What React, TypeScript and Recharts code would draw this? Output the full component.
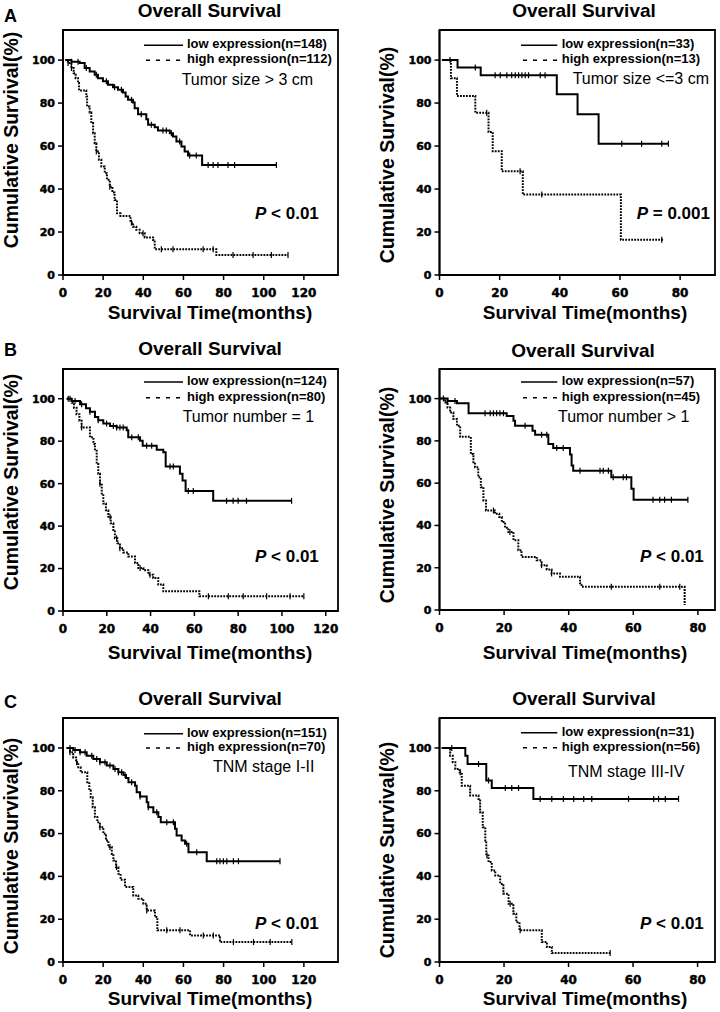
import React from 'react';
import { ComposedChart, Line, Scatter, XAxis, YAxis, ReferenceArea } from 'recharts';

const FONT = '"Liberation Sans", Arial, sans-serif';
const TICK_FONT = '"DejaVu Sans", sans-serif';

const yTicks = [0, 20, 40, 60, 80, 100];
const xTicksLong = [0, 20, 40, 60, 80, 100, 120];
const xTicksShort = [0, 20, 40, 60, 80];

// A left - tumor size > 3 cm
const aLeftLowTime = [1.2, 4.2, 8.3, 10.8, 13.3, 15.8, 17.4, 19.9, 22.4, 24.9, 27.4, 29.9, 31.2, 32.4, 34.9, 35.7, 37.4, 41.5, 42.4, 45.7, 47.3, 53.2, 54.8, 56.5, 59.0, 60.6, 62.3, 69.3, 106.3];
const aLeftLowSurv = [100, 99.2, 98.6, 96.3, 94.7, 93.2, 91.6, 90.1, 88.5, 87.4, 86.2, 84.9, 83.1, 81.5, 80.3, 77.6, 74.8, 72.5, 69.9, 68.8, 67.2, 66.0, 64.4, 62.1, 59.8, 57.5, 55.6, 51.2, 51.2];
const aLeftLowCens = [4.2, 7.5, 11.6, 16.6, 21.6, 25.7, 29.1, 34.1, 39.0, 44.0, 49.8, 51.5, 54.0, 58.1, 63.1, 66.4, 72.3, 74.8, 77.2, 82.2, 85.5, 106.3];
const aLeftHighTime = [1.2, 2.5, 4.2, 5.3, 6.3, 7.5, 8.0, 11.6, 12.0, 13.3, 14.1, 15.0, 15.8, 16.6, 17.9, 19.1, 20.8, 21.9, 23.3, 24.6, 25.7, 26.9, 28.6, 33.6, 34.9, 36.5, 38.2, 40.7, 44.9, 45.7, 76.4, 112.1];
const aLeftHighSurv = [100, 98.6, 96.3, 93.9, 91.6, 89.3, 85.9, 83.1, 78.4, 75.6, 70.7, 66.0, 61.3, 57.5, 53.6, 50.5, 47.4, 44.3, 41.1, 38.4, 34.9, 28.7, 27.5, 24.4, 22.5, 21.0, 19.4, 17.5, 16.3, 12.0, 9.3, 9.3];
const aLeftHighCens = [2.5, 4.2, 16.6, 23.3, 34.1, 39.9, 49.0, 54.8, 69.8, 74.8, 84.7, 94.7, 103.8, 112.1];

// A right - tumor size <= 3 cm
const aRightLowTime = [0.8, 6.0, 13.7, 39.0, 45.9, 52.9, 76.1];
const aRightLowSurv = [100, 96.6, 93.0, 84.1, 74.8, 61.1, 61.1];
const aRightLowCens = [3.5, 11.9, 18.5, 20.2, 22.4, 24.0, 25.2, 26.3, 27.4, 28.5, 29.6, 33.5, 35.1, 60.6, 67.2, 73.9, 76.1];
const aRightHighTime = [0.8, 3.8, 5.8, 11.9, 16.3, 17.7, 20.7, 27.7, 60.3, 74.5];
const aRightHighSurv = [100, 91.6, 83.3, 75.5, 66.5, 57.6, 48.3, 37.4, 16.4, 16.4];
const aRightHighCens = [15.7, 26.8, 34.0, 73.9];

// B left - tumor number = 1
const bLeftLowTime = [1.7, 4.0, 7.8, 10.5, 12.3, 14.6, 16.1, 18.4, 21.5, 24.5, 29.1, 29.8, 35.2, 36.4, 42.8, 45.8, 46.9, 53.4, 54.6, 56.0, 68.6, 104.4];
const bLeftLowSurv = [100, 98.9, 97.4, 95.5, 93.9, 91.4, 89.9, 88.3, 87.2, 86.4, 85.2, 81.8, 80.2, 77.9, 76.0, 74.8, 68.1, 64.6, 61.5, 56.5, 51.9, 51.9];
const bLeftLowCens = [3.2, 5.5, 8.5, 12.3, 16.1, 19.9, 23.0, 24.5, 26.0, 27.5, 31.4, 34.4, 38.2, 40.5, 48.9, 50.4, 57.2, 59.5, 74.7, 77.7, 80.0, 83.8, 104.4];
const bLeftHighTime = [1.7, 4.0, 5.0, 6.2, 7.5, 8.5, 12.3, 13.9, 14.6, 15.4, 16.1, 16.9, 17.7, 18.4, 19.6, 20.7, 21.8, 23.0, 23.7, 24.8, 26.0, 27.5, 29.8, 32.9, 34.4, 36.7, 39.0, 41.2, 43.5, 45.8, 62.3, 110.0];
const bLeftHighSurv = [100, 98.1, 95.8, 92.7, 89.6, 86.4, 81.8, 78.7, 75.5, 69.3, 64.6, 60.0, 55.3, 50.6, 47.5, 44.4, 41.3, 38.2, 34.3, 31.9, 29.6, 27.6, 25.7, 22.6, 20.2, 19.2, 17.1, 15.6, 12.5, 9.3, 7.0, 7.0];
const bLeftHighCens = [2.4, 8.5, 16.9, 21.5, 24.5, 26.0, 35.2, 39.7, 66.4, 75.5, 82.3, 93.0, 103.7, 110.0];

// B right - tumor number > 1
const bRightLowTime = [0.2, 2.5, 5.4, 9.0, 20.8, 22.9, 23.4, 28.8, 29.6, 33.7, 35.2, 40.4, 40.9, 41.4, 53.2, 59.4, 60.1, 76.9];
const bRightLowSurv = [100, 98.9, 97.8, 93.1, 91.8, 89.5, 87.1, 84.8, 82.9, 78.5, 76.6, 73.5, 68.3, 65.9, 62.8, 57.3, 52.1, 52.1];
const bRightLowCens = [2.5, 4.8, 14.1, 15.7, 16.7, 17.7, 18.7, 19.8, 26.5, 31.6, 33.2, 36.3, 38.3, 43.5, 49.7, 50.7, 52.3, 53.8, 56.9, 57.9, 66.1, 68.2, 69.7, 71.8, 76.9];
const bRightHighTime = [0.2, 1.75, 2.5, 3.3, 4.3, 5.4, 6.4, 9.7, 10.5, 11.0, 12.0, 12.8, 13.6, 14.4, 17.2, 18.5, 19.3, 20.3, 21.3, 22.9, 24.4, 25.4, 30.1, 31.6, 33.2, 34.7, 37.3, 43.5, 44.0, 75.9];
const bRightHighSurv = [100, 98.1, 95.8, 93.4, 90.3, 87.1, 81.9, 73.8, 69.9, 67.5, 62.8, 58.1, 51.8, 47.1, 45.5, 44.0, 41.6, 38.9, 36.9, 33.0, 28.3, 25.1, 23.5, 21.2, 19.2, 17.3, 15.7, 12.6, 11.0, 2.4];
const bRightHighCens = [1.2, 16.7, 21.8, 31.6, 34.7, 53.2, 68.2, 74.4];

// C left - TNM stage I-II
const cLeftLowTime = [1.8, 5.1, 8.5, 11.8, 15.1, 18.4, 21.8, 25.1, 27.6, 30.1, 31.4, 32.6, 35.9, 36.7, 38.4, 41.7, 42.5, 45.0, 47.5, 48.7, 55.8, 56.6, 59.1, 60.8, 62.5, 71.6, 108.1];
const cLeftLowSurv = [100, 99.1, 98.0, 96.4, 94.9, 93.3, 91.8, 90.2, 88.6, 87.4, 86.0, 84.0, 82.4, 79.3, 77.3, 74.6, 72.3, 70.0, 67.7, 65.3, 62.2, 59.1, 56.8, 55.2, 51.3, 47.1, 47.1];
const cLeftLowCens = [3.5, 6.0, 8.5, 11.0, 14.3, 16.8, 18.4, 20.9, 23.4, 25.9, 27.6, 29.2, 30.9, 34.2, 38.4, 42.5, 46.7, 51.7, 55.0, 61.6, 66.6, 76.6, 78.2, 79.9, 81.6, 84.9, 87.4, 108.1];
const cLeftHighTime = [1.8, 3.5, 5.1, 6.5, 7.6, 8.8, 12.1, 13.1, 13.8, 14.8, 15.9, 17.1, 18.4, 20.1, 21.4, 22.6, 24.3, 25.1, 26.4, 27.6, 28.7, 30.9, 35.0, 37.5, 40.0, 41.7, 45.8, 47.0, 63.3, 78.2, 114.0];
const cLeftHighSurv = [100, 98.0, 95.6, 93.3, 91.0, 88.6, 84.0, 80.1, 77.0, 72.3, 67.7, 65.3, 63.0, 59.9, 56.8, 53.7, 50.5, 47.4, 44.3, 41.2, 38.4, 35.0, 31.1, 29.5, 27.2, 24.1, 21.0, 14.8, 12.4, 9.3, 9.3];
const cLeftHighCens = [3.5, 6.8, 18.4, 23.4, 26.7, 41.7, 51.7, 58.3, 69.9, 74.9, 84.9, 94.9, 103.2, 114.0];

// C right - TNM stage III-IV
const cRightLowTime = [0.7, 8.0, 8.7, 14.5, 16.2, 29.1, 74.1];
const cRightLowSurv = [100, 96.4, 92.5, 84.8, 81.3, 76.2, 76.2];
const cRightLowCens = [3.8, 12.1, 15.2, 20.4, 22.4, 24.5, 31.2, 34.8, 38.4, 41.6, 44.7, 47.2, 58.6, 66.4, 67.9, 70.0, 74.1];
const cRightHighTime = [0.7, 3.3, 4.1, 4.9, 6.2, 6.9, 9.5, 12.1, 12.6, 13.4, 14.2, 14.5, 15.2, 16.2, 17.3, 18.8, 19.8, 21.4, 22.9, 23.8, 24.8, 31.7, 33.3, 34.8, 52.9];
const cRightHighSurv = [100, 96.4, 93.3, 90.2, 88.6, 82.4, 77.8, 76.2, 70.0, 63.0, 56.8, 49.8, 46.7, 42.8, 40.4, 36.5, 31.9, 27.2, 22.6, 18.6, 14.8, 9.3, 7.0, 4.2, 4.2];
const cRightHighCens = [6.4, 14.7, 21.9, 25.0, 52.9];

const toSteps = (time: number[], surv: number[]) => time.map((t, i) => ({ t, s: surv[i] }));

const toCensor = (time: number[], surv: number[], cens: number[]) =>
  cens.map((c) => {
    let s = surv[0];
    for (let i = 0; i < time.length; i++) if (time[i] <= c) s = surv[i];
    return { t: c, s };
  });

const CensorMark = (props: any) => {
  const { cx, cy } = props;
  if (cx == null || cy == null) return null;
  return <line x1={cx} x2={cx} y1={cy - 3} y2={cy + 3} stroke="#000" strokeWidth={1.2} />;
};

// heavy tick labels, like the scanned original
const XTick = (props: any) => (
  <text x={props.x} y={props.y} dy="0.71em" textAnchor="middle" fill="#000" stroke="#000" strokeWidth={0.45}
    fontFamily={TICK_FONT} fontWeight="bold" fontSize={12}>
    {props.payload.value}
  </text>
);

const YTick = (props: any) => (
  <text x={props.x} y={props.y} dy="0.355em" textAnchor="end" fill="#000" stroke="#000" strokeWidth={0.45}
    fontFamily={TICK_FONT} fontWeight="bold" fontSize={11}>
    {props.payload.value}
  </text>
);

const Y_W = 45;
const X_H = 30;
const TOP = 12;
const Y_MAX = 114;

function KMPanel(p: any) {
  const height = TOP + (p.plotBottom - p.plotTop) + X_H;
  const axisStyle = { stroke: '#000', strokeWidth: 1.8 };
  return (
    <div style={{ position: 'absolute', left: p.chartLeft, top: p.plotTop - TOP }}>
      <ComposedChart
        width={360}
        height={height}
        margin={{ top: TOP, bottom: 0, left: p.plotLeft - p.chartLeft - Y_W, right: p.chartLeft + 360 - p.plotRight }}
      >
        <XAxis
          type="number"
          dataKey="t"
          domain={[0, p.xMax]}
          ticks={p.xTicks}
          interval={0}
          allowDataOverflow
          height={X_H}
          tickSize={5}
          tickMargin={8.5}
          axisLine={axisStyle}
          tickLine={{ stroke: '#000', strokeWidth: 1.5 }}
          tick={<XTick />}
        />
        <YAxis
          type="number"
          dataKey="s"
          domain={[0, Y_MAX]}
          ticks={yTicks}
          interval={0}
          allowDataOverflow
          width={Y_W}
          tickSize={5}
          tickMargin={3}
          axisLine={axisStyle}
          tickLine={{ stroke: '#000', strokeWidth: 1.5 }}
          tick={<YTick />}
        />
        <ReferenceArea x1={0} x2={p.xMax} y1={0} y2={Y_MAX} fill="none" stroke="#000" strokeWidth={1.8} />
        <Line
          data={toSteps(p.low[0], p.low[1])}
          dataKey="s"
          type="stepAfter"
          stroke="#000"
          strokeWidth={2}
          dot={false}
          isAnimationActive={false}
        />
        <Line
          data={toSteps(p.high[0], p.high[1])}
          dataKey="s"
          type="stepAfter"
          stroke="#000"
          strokeWidth={2}
          strokeDasharray="1.8 1.2"
          dot={false}
          isAnimationActive={false}
        />
        <Scatter data={toCensor(p.low[0], p.low[1], p.low[2])} dataKey="s" shape={CensorMark} isAnimationActive={false} />
        <Scatter data={toCensor(p.high[0], p.high[1], p.high[2])} dataKey="s" shape={CensorMark} isAnimationActive={false} />
      </ComposedChart>
    </div>
  );
}

function Txt({ x, y, size, bold = true, align = 'left', children }: any) {
  const tx = align === 'left' ? '0' : align === 'center' ? '-50%' : '-100%';
  return (
    <div
      style={{
        position: 'absolute',
        left: x,
        top: y,
        transform: `translate(${tx},-50%)`,
        fontSize: size,
        fontWeight: bold ? 700 : 400,
        fontFamily: FONT,
        lineHeight: 1,
        whiteSpace: 'nowrap',
        color: '#000',
      }}
    >
      {children}
    </div>
  );
}

function VTxt({ x, y, size, children }: any) {
  return (
    <div
      style={{
        position: 'absolute',
        left: x,
        top: y,
        transform: 'translate(-50%,-50%) rotate(-90deg)',
        fontSize: size,
        fontWeight: 700,
        fontFamily: FONT,
        lineHeight: 1,
        whiteSpace: 'nowrap',
        color: '#000',
      }}
    >
      {children}
    </div>
  );
}

const panels = [
  {
    chartLeft: 0, plotLeft: 63, plotRight: 338, plotTop: 30, plotBottom: 275, xMax: 137, xTicks: xTicksLong,
    low: [aLeftLowTime, aLeftLowSurv, aLeftLowCens], high: [aLeftHighTime, aLeftHighSurv, aLeftHighCens],
    title: [209.5, 10], xLab: [210, 312], yLab: [12, 140],
    leg: { x1: 144, x2: 183, tx: 187, y1: 43.3, y2: 58.3 }, lowLab: 'low expression(n=148)', highLab: 'high expression(n=112)',
    sub: [181.7, 80, 'Tumor size > 3 cm'], pv: [255, 213.3, ' < 0.01'],
  },
  {
    chartLeft: 360, plotLeft: 439.5, plotRight: 715, plotTop: 30, plotBottom: 275, xMax: 91.6, xTicks: xTicksShort,
    low: [aRightLowTime, aRightLowSurv, aRightLowCens], high: [aRightHighTime, aRightHighSurv, aRightHighCens],
    title: [584, 10], xLab: [585, 312], yLab: [388, 155],
    leg: { x1: 521, x2: 557.3, tx: 561.7, y1: 43.3, y2: 58.3 }, lowLab: 'low expression(n=33)', highLab: 'high expression(n=13)',
    sub: [572.7, 79, 'Tumor size <=3 cm'], pv: [636.7, 213.3, ' = 0.001'],
  },
  {
    chartLeft: 0, plotLeft: 63, plotRight: 338, plotTop: 369, plotBottom: 611, xMax: 125.6, xTicks: xTicksLong,
    low: [bLeftLowTime, bLeftLowSurv, bLeftLowCens], high: [bLeftHighTime, bLeftHighSurv, bLeftHighCens],
    title: [210, 348.3], xLab: [210, 651.7], yLab: [12, 482],
    leg: { x1: 144, x2: 183, tx: 187, y1: 380, y2: 395.7 }, lowLab: 'low expression(n=124)', highLab: 'high expression(n=80)',
    sub: [182.7, 417.3, 'Tumor number = 1'], pv: [255, 555.7, ' < 0.01'],
  },
  {
    chartLeft: 360, plotLeft: 439.5, plotRight: 715, plotTop: 369, plotBottom: 610, xMax: 85.3, xTicks: xTicksShort,
    low: [bRightLowTime, bRightLowSurv, bRightLowCens], high: [bRightHighTime, bRightHighSurv, bRightHighCens],
    title: [583, 350], xLab: [585, 651.7], yLab: [388, 495],
    leg: { x1: 521, x2: 557.3, tx: 561.7, y1: 380, y2: 395.7 }, lowLab: 'low expression(n=57)', highLab: 'high expression(n=45)',
    sub: [558, 417.3, 'Tumor number > 1'], pv: [640, 555.7, ' < 0.01'],
  },
  {
    chartLeft: 0, plotLeft: 63, plotRight: 338, plotTop: 718, plotBottom: 962, xMax: 137, xTicks: xTicksLong,
    low: [cLeftLowTime, cLeftLowSurv, cLeftLowCens], high: [cLeftHighTime, cLeftHighSurv, cLeftHighCens],
    title: [210, 698.3], xLab: [210, 998], yLab: [12, 846],
    leg: { x1: 144, x2: 183, tx: 187, y1: 731.7, y2: 746 }, lowLab: 'low expression(n=151)', highLab: 'high expression(n=70)',
    sub: [213, 766.7, 'TNM stage I-II'], pv: [255, 922.7, ' < 0.01'],
  },
  {
    chartLeft: 360, plotLeft: 439.5, plotRight: 715, plotTop: 718, plotBottom: 962, xMax: 85.4, xTicks: xTicksShort,
    low: [cRightLowTime, cRightLowSurv, cRightLowCens], high: [cRightHighTime, cRightHighSurv, cRightHighCens],
    title: [584, 698], xLab: [585, 998], yLab: [388, 850],
    leg: { x1: 521, x2: 557.3, tx: 561.7, y1: 730.7, y2: 745.7 }, lowLab: 'low expression(n=31)', highLab: 'high expression(n=56)',
    sub: [568, 771.7, 'TNM stage III-IV'], pv: [640, 922.7, ' < 0.01'],
  },
];

export default function App() {
  return (
    <div style={{ position: 'absolute', left: 0, top: 0, width: 720, height: 1012, background: '#fff', overflow: 'hidden' }}>
      {panels.map((p, i) => (
        <KMPanel key={i} {...p} />
      ))}
      <svg width={720} height={1012} style={{ position: 'absolute', left: 0, top: 0 }}>
        {panels.map((p, i) => (
          <g key={i}>
            <line x1={p.leg.x1} x2={p.leg.x2} y1={p.leg.y1 + 2} y2={p.leg.y1 + 2} stroke="#000" strokeWidth={1.6} />
            <line x1={p.leg.x1 + 2} x2={p.leg.x2} y1={p.leg.y2 + 2} y2={p.leg.y2 + 2} stroke="#000" strokeWidth={1.6} strokeDasharray="4 6" />
          </g>
        ))}
      </svg>
      <Txt x={4} y={16} size={18}>A</Txt>
      <Txt x={4} y={350} size={18}>B</Txt>
      <Txt x={4} y={702} size={18}>C</Txt>
      {panels.map((p, i) => (
        <React.Fragment key={i}>
          <Txt x={p.title[0]} y={p.title[1]} size={19} align="center">Overall Survival</Txt>
          <Txt x={p.xLab[0]} y={p.xLab[1]} size={19} align="center">Survival Time(months)</Txt>
          <VTxt x={p.yLab[0]} y={p.yLab[1]} size={19.5}>Cumulative Survival(%)</VTxt>
          <Txt x={p.leg.tx} y={p.leg.y1} size={13}>{p.lowLab}</Txt>
          <Txt x={p.leg.tx} y={p.leg.y2} size={13}>{p.highLab}</Txt>
          <Txt x={p.sub[0]} y={p.sub[1]} size={16} bold={false}>{p.sub[2]}</Txt>
          <Txt x={p.pv[0]} y={p.pv[1]} size={17}>
            <i>P</i>
            {p.pv[2]}
          </Txt>
        </React.Fragment>
      ))}
    </div>
  );
}
